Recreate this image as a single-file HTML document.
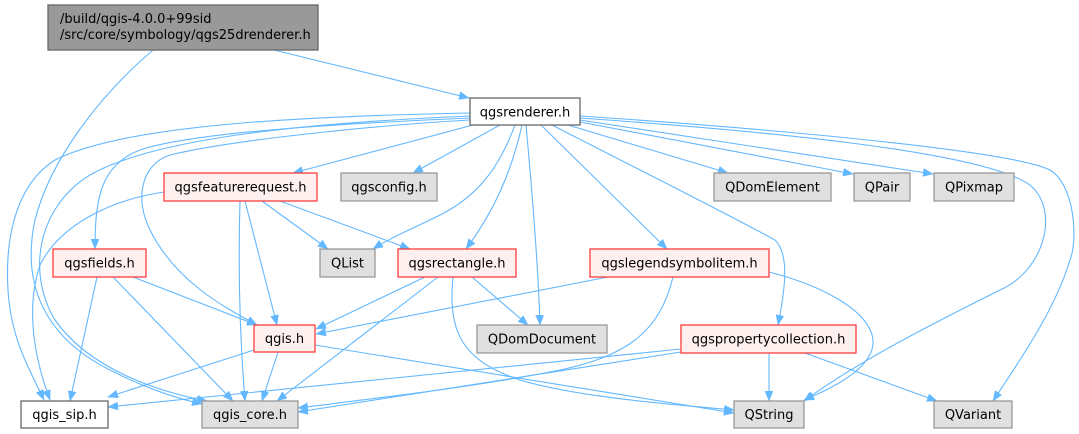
<!DOCTYPE html>
<html><head><meta charset="utf-8"><style>
html,body{margin:0;padding:0;background:#fff;}
svg{display:block;}
text{font-family:"DejaVu Sans","Liberation Sans",sans-serif;font-size:13px;fill:#000;}
.e{fill:none;stroke:#63b8ff;stroke-width:1.1;}
.r{fill:#fff0f0;stroke:#ff3b3b;stroke-width:1.3;}
.g{fill:#e0e0e0;stroke:#999;stroke-width:1.3;}
.w{fill:#fff;stroke:#666;stroke-width:1.3;}
</style></head><body>
<svg width="1079" height="434" viewBox="0 0 1079 434" xmlns="http://www.w3.org/2000/svg">
<defs>
<marker id="a" markerUnits="userSpaceOnUse" markerWidth="12" markerHeight="10" refX="10" refY="4" orient="auto">
<path d="M0,0 L10,4 L0,8 z" fill="#63b8ff" stroke="#63b8ff" stroke-width="0.5"/>
</marker>
</defs>
<g marker-end="url(#a)">
<path class="e" d="M274,50 L469,98"/>
<path class="e" d="M153,50 C100,95 50,160 35,220 C20,290 50,340 110,370 C145,388 175,398 202,404"/>
<path class="e" d="M470,113 C330,116 130,122 55,160 C15,185 5,240 8,290 C11,340 30,370 44,400"/>
<path class="e" d="M470,116 C330,122 160,135 90,175 C40,205 25,270 55,320 C90,370 160,392 207,401"/>
<path class="e" d="M470,118 C380,122 200,130 140,150 C100,165 95,200 95,249"/>
<path class="e" d="M470,120 C380,125 230,140 170,155 C140,165 135,200 150,230 C175,280 220,305 257,325"/>
<path class="e" d="M473,125 L293,173"/>
<path class="e" d="M500,125 L413,173"/>
<path class="e" d="M515,125 C500,165 480,195 440,215 C410,230 390,238 373,249"/>
<path class="e" d="M522,125 C512,170 495,210 466,249"/>
<path class="e" d="M526,125 C532,190 538,260 540,325"/>
<path class="e" d="M541,125 L667,249"/>
<path class="e" d="M552,125 C620,160 720,210 775,240 C790,255 785,290 778,325"/>
<path class="e" d="M568,125 L728,173"/>
<path class="e" d="M580,122 L853,174"/>
<path class="e" d="M580,120 L933,174"/>
<path class="e" d="M580,118 C750,130 980,150 1030,185 C1060,210 1045,270 1000,290 C940,320 860,360 804,401"/>
<path class="e" d="M580,116 C760,128 1010,150 1050,170 C1075,185 1078,240 1070,260 C1055,310 1020,360 993,401"/>
<path class="e" d="M164,192 C110,200 60,225 40,265 C25,310 35,360 50,400"/>
<path class="e" d="M240,201 C238,270 240,340 245,401"/>
<path class="e" d="M245,201 L277,325"/>
<path class="e" d="M262,201 L328,249"/>
<path class="e" d="M280,201 L410,249"/>
<path class="e" d="M97,277 L70,401"/>
<path class="e" d="M113,277 L233,401"/>
<path class="e" d="M133,277 L257,325"/>
<path class="e" d="M425,277 L316,329"/>
<path class="e" d="M438,277 L277,401"/>
<path class="e" d="M472,277 L528,325"/>
<path class="e" d="M453,277 C448,330 460,360 520,380 C580,398 680,405 734,410"/>
<path class="e" d="M608,277 L316,334"/>
<path class="e" d="M673,277 C660,330 630,355 560,370 C470,388 360,400 298,408"/>
<path class="e" d="M769,272 C820,285 870,310 873,340 C875,365 840,385 804,400"/>
<path class="e" d="M254,350 L108,397"/>
<path class="e" d="M278,352 L262,401"/>
<path class="e" d="M315,345 L734,413"/>
<path class="e" d="M681,349 L108,407"/>
<path class="e" d="M681,352 L298,412"/>
<path class="e" d="M769,353 L769,401"/>
<path class="e" d="M805,353 L937,401"/>
</g>

<rect x="48" y="5" width="270" height="45" fill="#999" stroke="#666" stroke-width="1.3"/>
<text x="60" y="23">/build/qgis-4.0.0+99sid</text>
<text x="60" y="39">/src/core/symbology/qgs25drenderer.h</text>

<rect class="w" x="470" y="98" width="110" height="27"/>
<text x="525" y="116.5" text-anchor="middle">qgsrenderer.h</text>

<rect class="r" x="164" y="173" width="153" height="28"/>
<text x="240.5" y="191.5" text-anchor="middle">qgsfeaturerequest.h</text>
<rect class="g" x="341" y="173" width="96" height="28"/>
<text x="389" y="191.5" text-anchor="middle">qgsconfig.h</text>
<rect class="g" x="714" y="173" width="117" height="28"/>
<text x="772.5" y="191.5" text-anchor="middle">QDomElement</text>
<rect class="g" x="854" y="173" width="56" height="28"/>
<text x="882" y="191.5" text-anchor="middle">QPair</text>
<rect class="g" x="934" y="173" width="80" height="28"/>
<text x="974" y="191.5" text-anchor="middle">QPixmap</text>

<rect class="r" x="53" y="249" width="93" height="28"/>
<text x="99.5" y="267.5" text-anchor="middle">qgsfields.h</text>
<rect class="g" x="320" y="249" width="55" height="28"/>
<text x="347.5" y="267.5" text-anchor="middle">QList</text>
<rect class="r" x="398" y="249" width="118" height="28"/>
<text x="457" y="267.5" text-anchor="middle">qgsrectangle.h</text>
<rect class="r" x="590" y="249" width="179" height="28"/>
<text x="679.5" y="267.5" text-anchor="middle">qgslegendsymbolitem.h</text>

<rect class="r" x="254" y="325" width="61" height="27"/>
<text x="284.5" y="343" text-anchor="middle">qgis.h</text>
<rect class="g" x="477" y="325" width="130" height="28"/>
<text x="542" y="343.5" text-anchor="middle">QDomDocument</text>
<rect class="r" x="681" y="325" width="175" height="28"/>
<text x="768.5" y="343.5" text-anchor="middle">qgspropertycollection.h</text>

<rect class="w" x="21" y="401" width="87" height="27"/>
<text x="64.5" y="419" text-anchor="middle">qgis_sip.h</text>
<rect class="g" x="202" y="401" width="96" height="27"/>
<text x="250" y="419" text-anchor="middle">qgis_core.h</text>
<rect class="g" x="734" y="401" width="70" height="27"/>
<text x="769" y="419" text-anchor="middle">QString</text>
<rect class="g" x="934" y="401" width="78" height="27"/>
<text x="973" y="419" text-anchor="middle">QVariant</text>
</svg>
</body></html>
